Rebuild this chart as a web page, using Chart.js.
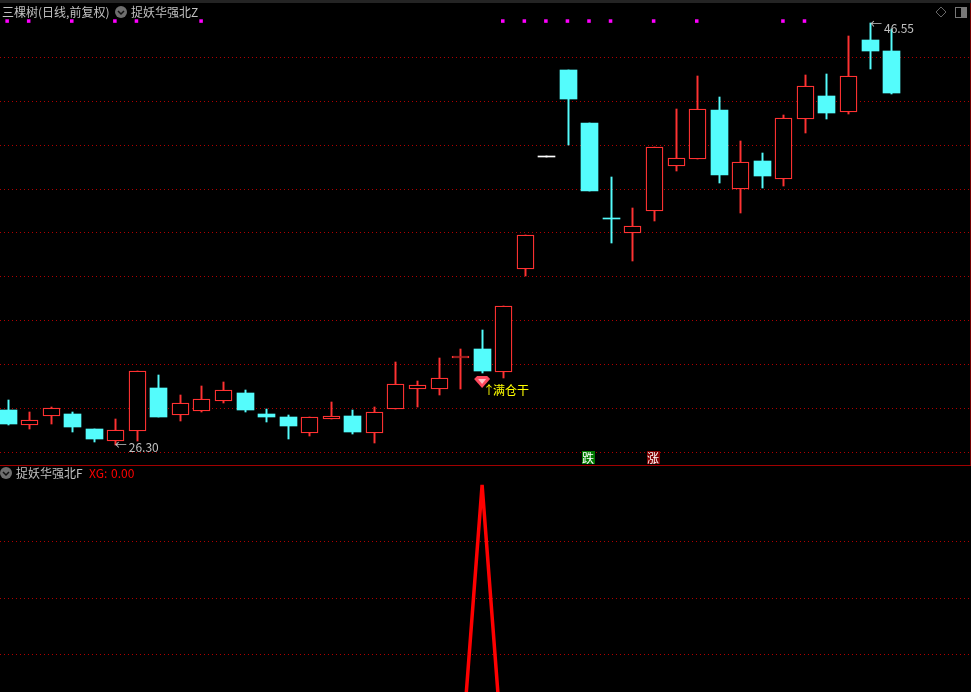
<!DOCTYPE html>
<html><head><meta charset="utf-8">
<style>html,body{margin:0;padding:0;background:#000;overflow:hidden}canvas{position:absolute;left:0;display:block}#a{top:0}#b{top:466px}</style>
<script src="https://cdn.jsdelivr.net/npm/chart.js@4"></script>
</head><body>
<canvas id="a" width="971" height="466"></canvas>
<canvas id="b" width="971" height="226"></canvas>
<script>
const openPrices  = [27.98,27.27,27.71,27.79,27.07,26.51,26.99,29.04,27.75,27.95,28.43,28.80,27.79,27.64,26.89,27.56,27.69,26.89,28.01,29.00,29.00,30.47,30.91,29.82,34.73,40.17,44.29,41.75,37.18,36.49,37.54,39.70,40.04,42.37,38.60,39.93,39.08,41.96,43.04,42.29,45.73,45.20];
const closePrices = [27.31,27.49,28.06,27.16,26.59,27.01,29.84,27.64,28.30,28.49,28.92,27.98,27.64,27.21,27.63,27.68,26.92,27.87,29.21,29.16,29.50,30.57,29.85,32.95,36.36,40.17,42.90,38.49,37.15,36.79,40.60,40.06,42.41,39.25,39.86,39.21,41.98,43.51,42.23,43.99,45.20,43.19];
const highPrices  = [28.46,27.88,28.11,27.88,27.07,27.55,29.84,29.66,28.70,29.13,29.32,28.92,28.03,27.74,27.63,28.36,27.98,28.12,30.28,29.37,30.47,30.91,31.82,32.95,36.36,40.17,44.29,41.75,39.16,37.67,40.60,42.42,44.00,43.00,40.89,40.31,42.13,44.05,44.10,45.92,46.55,46.26];
const lowPrices   = [27.26,27.08,27.32,26.92,26.44,26.30,26.49,27.64,27.45,27.88,28.33,27.88,27.40,26.59,26.73,27.56,26.83,26.40,28.01,28.12,28.70,28.99,29.75,29.51,34.41,40.17,40.69,38.49,35.99,35.13,37.05,39.45,40.04,38.87,37.43,38.63,38.73,41.27,41.94,42.18,44.34,43.14];
const signalDays  = [0,1,3,5,6,9,23,24,25,26,27,28,30,32,36,37];
const gridPrices  = [44.90,42.80,40.69,38.58,36.48,34.37,32.26,30.16,28.05,25.94];
const xgValues    = [0,0,0,0,0,0,0,0,0,0,0,0,0,0,0,0,0,0,0,0,0,0,100,0,0,0,0,0,0,0,0,0,0,0,0,0,0,0,0,0,0,0];
const xgGrid      = [40,60,80];
const lowLabel = '26.30', highLabel = '46.55', buyLabel = '满仓干';
const mainTitle = '三棵树(日线,前复权)', topIndicator = '捉妖华强北Z', lowIndicator = '捉妖华强北F';
const xgName = 'XG:', xgNow = '0.00';

const RED='#ff3232', CYAN='#54fcfc', GRID='#b00000', LINE='#a00000', TEXT='#c0c0c0';
const FONT='"Noto Sans CJK SC","DejaVu Sans",sans-serif';
const days = openPrices.map((_,i)=>i);
const STEP=21.55, X0=8;
const xScale = ()=>({type:'linear',display:false,offset:false,min:-X0/STEP,max:(971-X0)/STEP});
const isWhite = i => openPrices[i]===closePrices[i];
const colourOf = i => isWhite(i)?'#ffffff':(closePrices[i]>openPrices[i]?RED:CYAN);
const yAxis = (min,max,ticks)=>({min,max,
  afterBuildTicks:s=>{s.ticks=ticks.map(v=>({value:v}))},
  ticks:{display:false},border:{display:false,dash:[1,3]},
  grid:{color:GRID,lineWidth:1,drawTicks:false}});

const snap={id:'snap',afterDatasetsUpdate(c){
  c.data.datasets.forEach((d,k)=>{ if(d.type!=='bar')return;
    c.getDatasetMeta(k).data.forEach(b=>{
      b.x=Math.floor(b.x)+0.5;
      let t=Math.round(Math.min(b.y,b.base)),u=Math.round(Math.max(b.y,b.base));
      if(u-t<1)u=t+1;
      b.y=t;b.base=u;
    });
  });
}};
function icon(g,x,y){
  g.fillStyle='#6e6e6e';g.beginPath();g.arc(x,y,6,0,7);g.fill();
  g.strokeStyle='#111';g.lineWidth=1.5;g.beginPath();g.moveTo(x-3,y-1);g.lineTo(x,y+2);g.lineTo(x+3,y-1);g.stroke();
}
function text(g,s,x,y,col,size){g.font=(size||12)+'px '+FONT;g.fillStyle=col;g.textAlign='left';g.textBaseline='middle';g.fillText(s,x,y);return g.measureText(s).width;}
const decorTop={id:'decorTop',afterDraw(c){
  const g=c.ctx,X=c.scales.x,Y=c.scales.y;g.save();
  g.fillStyle='#242424';g.fillRect(0,0,971,3);
  text(g,mainTitle,2,12,TEXT);
  icon(g,121,12);
  text(g,topIndicator,131,12,TEXT);
  g.strokeStyle='#666';g.lineWidth=1;g.beginPath();g.moveTo(941,7);g.lineTo(946,12);g.lineTo(941,17);g.lineTo(936,12);g.closePath();g.stroke();
  g.strokeStyle='#777';g.strokeRect(955.5,7.5,11,10);g.fillStyle='#777';g.fillRect(961,8,5,9);
  g.fillStyle='#700000';g.fillRect(970,3,1,462);
  // low / high markers
  let px=X.getPixelForValue(5),py=Y.getPixelForValue(lowPrices[5]);
  text(g,'←',px-1,py,TEXT,12);text(g,lowLabel,px+13,py+2,TEXT,12);
  px=X.getPixelForValue(40);py=Y.getPixelForValue(highPrices[40]);
  text(g,'←',px,py+2,TEXT,12);text(g,highLabel,px+14,py+6,TEXT,12);
  // buy signal at the XG day
  const bi=xgValues.indexOf(100);px=X.getPixelForValue(bi);py=Y.getPixelForValue(lowPrices[bi]);
  const gy=py+3;
  g.fillStyle='#ff4a5e';g.beginPath();g.moveTo(px-8,gy+3);g.lineTo(px-5,gy);g.lineTo(px+5,gy);g.lineTo(px+8,gy+3);g.lineTo(px,gy+12);g.closePath();g.fill();
  g.fillStyle='#ffc0c8';g.beginPath();g.moveTo(px-4,gy+3);g.lineTo(px+4,gy+3);g.lineTo(px,gy+8);g.closePath();g.fill();
  text(g,'↑',px+1,gy+14,'#ffff00',12);
  text(g,buyLabel,px+11,gy+14,'#ffff00',12);
  // rise / fall tags
  [[27,'跌','#007a00'],[30,'涨','#800000']].forEach(([d,s,bg])=>{
    const x=Math.floor(X.getPixelForValue(d))-7;
    g.fillStyle=bg;g.fillRect(x,451,13,13);
    text(g,s,x,458,'#ffffff',12);
  });
  g.fillStyle=LINE;g.fillRect(0,465,971,1);
  g.restore();
}};
const decorLow={id:'decorLow',afterDraw(c){
  const g=c.ctx;g.save();
  icon(g,6,7);
  text(g,lowIndicator,16,7,TEXT);
  text(g,xgName,89,7,'#ff0000',12);
  text(g,xgNow,111,7,'#ff0000',12);
  g.restore();
}};

new Chart(document.getElementById('a'),{
  data:{datasets:[
    {type:'scatter',order:1,data:signalDays.map(d=>({x:d-0.04,y:46.64})),pointStyle:'rect',pointRadius:2.5,borderWidth:0,backgroundColor:'#ff00ff'},
    {type:'bar',order:2,grouped:false,barThickness:17,
      data:days.map(i=>({x:i,y:[openPrices[i],closePrices[i]]})),
      backgroundColor:days.map(i=>colourOf(i)===RED?'#000':colourOf(i)),
      borderColor:days.map(colourOf),borderWidth:days.map(i=>colourOf(i)===RED?1.3:0),borderSkipped:false},
    {type:'bar',order:3,grouped:false,barThickness:1.3,
      data:days.map(i=>({x:i,y:[lowPrices[i],highPrices[i]]})),
      backgroundColor:days.map(colourOf),borderWidth:0}
  ]},
  options:{responsive:false,animation:false,devicePixelRatio:1,layout:{padding:0,autoPadding:false},
    plugins:{legend:{display:false},tooltip:{enabled:false}},
    scales:{x:xScale(),y:yAxis(25.29,47.65,gridPrices)}},
  plugins:[snap,decorTop]
});
new Chart(document.getElementById('b'),{
  data:{datasets:[
    {type:'line',data:days.map(i=>({x:i,y:xgValues[i]})),borderColor:'#ff0000',borderWidth:3.5,pointRadius:0,tension:0,borderJoinStyle:'bevel'}
  ]},
  options:{responsive:false,animation:false,devicePixelRatio:1,layout:{padding:0,autoPadding:false},
    plugins:{legend:{display:false},tooltip:{enabled:false}},
    scales:{x:xScale(),y:yAxis(26.9,106.7,xgGrid)}},
  plugins:[decorLow]
});
</script>
</body></html>
